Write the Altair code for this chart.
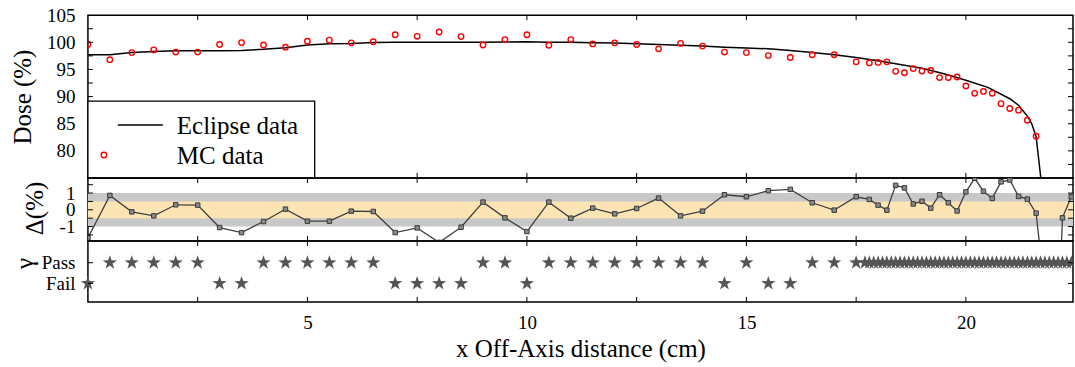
import altair as alt
import pandas as pd

# ---------------- data ----------------
eclipse_x = [0, 0.5, 1.0, 1.5, 2.0, 2.5, 3.0, 3.5, 4.0, 4.5,
             5.0, 5.5, 6.0, 6.5, 7.0, 7.5, 8.0, 8.5, 9.0, 9.5,
             10.0, 10.5, 11.0, 11.5, 12.0, 12.5, 13.0, 13.5, 14.0, 14.5,
             15.0, 15.5, 16.0, 16.5, 17.0, 17.5, 18.0, 18.5, 19.0, 19.5,
             20.0, 20.5, 21.0, 21.2, 21.4, 21.5, 21.6, 21.7, 21.8]
eclipse_dose = [97.7, 97.7, 98.1, 98.3, 98.45, 98.45, 98.45, 98.5, 98.7, 99.0,
                99.5, 99.75, 99.8, 99.95, 100.0, 100.0, 100.0, 100.0, 100.0, 100.05,
                100.1, 100.0, 100.0, 99.9, 99.85, 99.75, 99.6, 99.45, 99.3, 99.1,
                98.95, 98.8, 98.5, 98.1, 97.7, 97.2, 96.6, 95.9, 95.2, 94.2,
                93.0, 91.7, 89.6, 88.4, 86.4, 85.0, 82.6, 75.5, 66.0]

mc_x = [0, 0.5, 1.0, 1.5, 2.0, 2.5, 3.0, 3.5, 4.0, 4.5,
        5.0, 5.5, 6.0, 6.5, 7.0, 7.5, 8.0, 8.5, 9.0, 9.5,
        10.0, 10.5, 11.0, 11.5, 12.0, 12.5, 13.0, 13.5, 14.0, 14.5,
        15.0, 15.5, 16.0, 16.5, 17.0, 17.5, 17.8, 18.0, 18.2, 18.4,
        18.6, 18.8, 19.0, 19.2, 19.4, 19.6, 19.8, 20.0, 20.2, 20.4,
        20.6, 20.8, 21.0, 21.2, 21.4, 21.6]
mc_dose = [99.6, 96.8, 98.1, 98.6, 98.2, 98.2, 99.6, 99.95, 99.5, 99.1,
           100.2, 100.4, 99.9, 100.1, 101.4, 101.1, 101.9, 101.05, 99.5, 100.5,
           101.4, 99.45, 100.5, 99.7, 99.9, 99.6, 98.8, 99.8, 99.3, 98.2,
           98.1, 97.55, 97.2, 97.7, 97.7, 96.4, 96.2, 96.3, 96.4, 94.65,
           94.4, 95.15, 94.7, 94.8, 93.5, 93.5, 93.6, 91.95, 90.6, 90.95,
           90.6, 88.7, 87.8, 87.5, 85.65, 82.7]

delta_x = [0, 0.5, 1.0, 1.5, 2.0, 2.5, 3.0, 3.5, 4.0, 4.5,
           5.0, 5.5, 6.0, 6.5, 7.0, 7.5, 8.0, 8.5, 9.0, 9.5,
           10.0, 10.5, 11.0, 11.5, 12.0, 12.5, 13.0, 13.5, 14.0, 14.5,
           15.0, 15.5, 16.0, 16.5, 17.0, 17.5, 17.8, 18.0, 18.2, 18.4,
           18.6, 18.8, 19.0, 19.2, 19.4, 19.6, 19.8, 20.0, 20.2, 20.4,
           20.6, 20.8, 21.0, 21.2, 21.4, 21.6, 21.8, 22.0, 22.2, 22.4]
delta_val = [-1.68, 0.86, -0.12, -0.36, 0.30, 0.28, -1.06, -1.36, -0.70, 0.04,
             -0.68, -0.68, -0.08, -0.10, -1.36, -1.08, -1.95, -1.04, 0.46, -0.48,
             -1.30, 0.46, -0.50, 0.10, -0.24, 0.08, 0.70, -0.36, -0.08, 0.90,
             0.78, 1.14, 1.22, 0.42, -0.02, 0.78, 0.62, 0.28, -0.02, 1.46,
             1.31, 0.35, 0.51, 0.10, 0.90, 0.42, -0.07, 1.07, 1.88, 1.11,
             0.68, 1.67, 1.78, 0.80, 0.64, -0.20, -5.0, -14.0, -0.48, 0.78]

gamma_x = [0, 0.5, 1.0, 1.5, 2.0, 2.5, 3.0, 3.5, 4.0, 4.5,
           5.0, 5.5, 6.0, 6.5, 7.0, 7.5, 8.0, 8.5, 9.0, 9.5,
           10.0, 10.5, 11.0, 11.5, 12.0, 12.5, 13.0, 13.5, 14.0, 14.5,
           15.0, 15.5, 16.0, 16.5, 17.0, 17.5,
           17.7, 17.8, 17.9, 18.0, 18.1, 18.2, 18.3, 18.4, 18.5, 18.6,
           18.7, 18.8, 18.9, 19.0, 19.1, 19.2, 19.3, 19.4, 19.5, 19.6,
           19.7, 19.8, 19.9, 20.0, 20.1, 20.2, 20.3, 20.4, 20.5, 20.6,
           20.7, 20.8, 20.9, 21.0, 21.1, 21.2, 21.3, 21.4, 21.5, 21.6,
           21.7, 21.8, 21.9, 22.0, 22.1, 22.2, 22.3, 22.4]
gamma_pass = [0, 1, 1, 1, 1, 1, 0, 0, 1, 1,
              1, 1, 1, 1, 0, 0, 0, 0, 1, 1,
              0, 1, 1, 1, 1, 1, 1, 1, 1, 0,
              1, 0, 0, 1, 1, 1,
              1, 1, 1, 1, 1, 1, 1, 1, 1, 1,
              1, 1, 1, 1, 1, 1, 1, 1, 1, 1,
              1, 1, 1, 1, 1, 1, 1, 1, 1, 1,
              1, 1, 1, 1, 1, 1, 1, 1, 1, 1,
              1, 1, 1, 1, 1, 1, 1, 1]

band_outer = [-1, 1]
band_inner = [-0.5, 0.5]

x_tick_values = [2.5, 5, 7.5, 10, 12.5, 15, 17.5, 20]
x_label_values = [5, 10, 15, 20]
dose_label_values = [80, 85, 90, 95, 100, 105]
dose_tick_values = [77.5, 80, 82.5, 85, 87.5, 90, 92.5, 95, 97.5, 100, 102.5]
delta_label_values = [-1, 0, 1]
delta_tick_values = [-1.5, -1, -0.5, 0, 0.5, 1, 1.5]
gamma_tick_values = [0, 1]
legend_labels = ["Eclipse data", "MC data"]

# ---------------- layout / style ----------------
W, H1, H2, H3 = 986, 163, 63, 61
TK = 5
FONT = "Liberation Serif"
STAR = ("M0,-1L0.228,-0.314L0.951,-0.309L0.369,0.12L0.588,0.809L0,0.388"
        "L-0.588,0.809L-0.369,0.12L-0.951,-0.309L-0.228,-0.314Z")

xscale = alt.Scale(domain=[0, 22.44], nice=False, zero=False)
dose_scale = alt.Scale(domain=[75, 105], nice=False, zero=False)
delta_scale = alt.Scale(domain=[-1.86, 1.90], nice=False, zero=False)
gamma_scale = alt.Scale(domain=[-0.89, 2.05], nice=False, zero=False)


def X(field, axis=None):
    return alt.X(f"{field}:Q", scale=xscale, axis=axis)


def Y(field, scale, axis):
    return alt.Y(f"{field}:Q", scale=scale, axis=axis)


def tick_layers(H, yscale, yaxis, xaxis, yticks):
    tx = pd.DataFrame({"t": x_tick_values})
    ty = pd.DataFrame({"t": yticks})
    rule = dict(color="black", strokeWidth=1)
    return [
        alt.Chart(tx).mark_rule(**rule).encode(x=X("t", xaxis), y=alt.value(0), y2=alt.value(TK)),
        alt.Chart(tx).mark_rule(**rule).encode(x=X("t", xaxis), y=alt.value(H), y2=alt.value(H - TK)),
        alt.Chart(ty).mark_rule(**rule).encode(y=Y("t", yscale, yaxis), x=alt.value(0), x2=alt.value(TK)),
        alt.Chart(ty).mark_rule(**rule).encode(y=Y("t", yscale, yaxis), x=alt.value(W), x2=alt.value(W - TK)),
    ]


# ---------------- top panel: dose ----------------
dose_axis = alt.Axis(values=dose_label_values, title="Dose (%)", labelPadding=13,
                     titleX=-65, titleY=H1 / 2, titleAngle=270,
                     titleBaseline="middle", titleAlign="center")

df_ecl = pd.DataFrame({"x": eclipse_x, "d": eclipse_dose})
df_mc = pd.DataFrame({"x": mc_x, "d": mc_dose})
one = pd.DataFrame({"a": [0]})

ecl_line = alt.Chart(df_ecl).mark_line(color="black", strokeWidth=1.5, clip=True).encode(
    x=X("x"), y=Y("d", dose_scale, dose_axis))
mc_pts = alt.Chart(df_mc).mark_point(shape="circle", filled=False, color="#ff0000",
                                     size=30, strokeWidth=1.4, opacity=1, clip=True).encode(
    x=X("x"), y=Y("d", dose_scale, dose_axis))

leg_box = alt.Chart(one).mark_rect(fill="white", stroke="black", strokeWidth=1.3).encode(
    x=alt.value(0), x2=alt.value(227), y=alt.value(86), y2=alt.value(H1))
leg_line = alt.Chart(one).mark_rule(color="black", strokeWidth=1.5).encode(
    x=alt.value(30), x2=alt.value(75), y=alt.value(110))
leg_pt = alt.Chart(one).mark_point(shape="circle", filled=False, color="#ff0000",
                                   size=30, strokeWidth=1.4, opacity=1).encode(
    x=alt.value(16), y=alt.value(140))
leg_t1 = alt.Chart(one).mark_text(text=legend_labels[0], align="left", baseline="middle",
                                  font=FONT, fontSize=25, color="black").encode(
    x=alt.value(89), y=alt.value(111))
leg_t2 = alt.Chart(one).mark_text(text=legend_labels[1], align="left", baseline="middle",
                                  font=FONT, fontSize=25, color="black").encode(
    x=alt.value(89), y=alt.value(141))

top = alt.layer(
    ecl_line, mc_pts,
    *tick_layers(H1, dose_scale, dose_axis, None, dose_tick_values),
    leg_box, leg_line, leg_pt, leg_t1, leg_t2,
).properties(width=W, height=H1)

# ---------------- middle panel: delta ----------------
delta_axis = alt.Axis(values=delta_label_values, title="Δ(%)", labelPadding=13,
                      labelExpr="datum.value < 0 ? '-' + abs(datum.value) : '' + datum.value",
                      titleX=-53, titleY=30, titleAngle=270,
                      titleBaseline="middle", titleAlign="center")

df_bands = pd.DataFrame({"y1": [band_outer[0], band_inner[0]],
                         "y2": [band_outer[1], band_inner[1]],
                         "k": ["outer", "inner"]})
df_delta = pd.DataFrame({"x": delta_x, "v": delta_val})

band_o = alt.Chart(df_bands.iloc[[0]]).mark_rect(color="#c8c8c8").encode(
    x=alt.value(0), x2=alt.value(W), y=Y("y1", delta_scale, delta_axis), y2="y2:Q")
band_i = alt.Chart(df_bands.iloc[[1]]).mark_rect(color="#fde4b4").encode(
    x=alt.value(0), x2=alt.value(W), y=Y("y1", delta_scale, delta_axis), y2="y2:Q")
d_line = alt.Chart(df_delta).mark_line(color="#404040", strokeWidth=1.3, clip=True).encode(
    x=X("x"), y=Y("v", delta_scale, delta_axis))
d_pts = alt.Chart(df_delta).mark_point(shape="square", filled=True, fill="#8a8a8a",
                                       stroke="#3a3a3a", strokeWidth=1, size=20,
                                       opacity=1, clip=True).encode(
    x=X("x"), y=Y("v", delta_scale, delta_axis))

mid = alt.layer(
    band_o, band_i, d_line, d_pts,
    *tick_layers(H2, delta_scale, delta_axis, None, delta_tick_values),
).properties(width=W, height=H2)

# ---------------- bottom panel: gamma ----------------
gamma_axis = alt.Axis(values=gamma_tick_values, title="γ", labelPadding=13,
                      labelExpr="datum.value == 1 ? 'Pass' : 'Fail'",
                      titleX=-63, titleY=22, titleAngle=270,
                      titleBaseline="middle", titleAlign="center")
x_axis = alt.Axis(values=x_label_values, title="x Off-Axis distance (cm)",
                  labelPadding=12, titleY=55, titleBaseline="alphabetic")

df_gamma = pd.DataFrame({"x": gamma_x, "g": gamma_pass})
g_in = df_gamma[df_gamma["x"] < 22.25]
g_edge = df_gamma[df_gamma["x"] >= 22.25]

stars_a = alt.Chart(g_in).mark_point(shape=STAR, filled=True, color="#555555",
                                     size=225, opacity=1, strokeWidth=0).encode(
    x=X("x", x_axis), y=Y("g", gamma_scale, gamma_axis))
stars_b = alt.Chart(g_edge).mark_point(shape=STAR, filled=True, color="#555555",
                                       size=225, opacity=1, strokeWidth=0, clip=True).encode(
    x=X("x", x_axis), y=Y("g", gamma_scale, gamma_axis))

bot = alt.layer(
    stars_a, stars_b,
    *tick_layers(H3, gamma_scale, gamma_axis, x_axis, gamma_tick_values),
).properties(width=W, height=H3)

chart = alt.vconcat(top, mid, bot, spacing=0, bounds="flush").properties(
    padding={"left": 10, "top": 5, "right": 0, "bottom": 2}
).configure_view(
    stroke="black", strokeWidth=1.5
).configure_axis(
    labelFont=FONT, titleFont=FONT, labelFontSize=19, titleFontSize=25,
    titleFontWeight="normal", labelColor="black", titleColor="black",
    grid=False, domain=False, ticks=False, tickSize=0,
    labelFlush=False, labelOverlap=False,
)

chart.save("out.html", embed_options={"renderer": "svg", "actions": False})
